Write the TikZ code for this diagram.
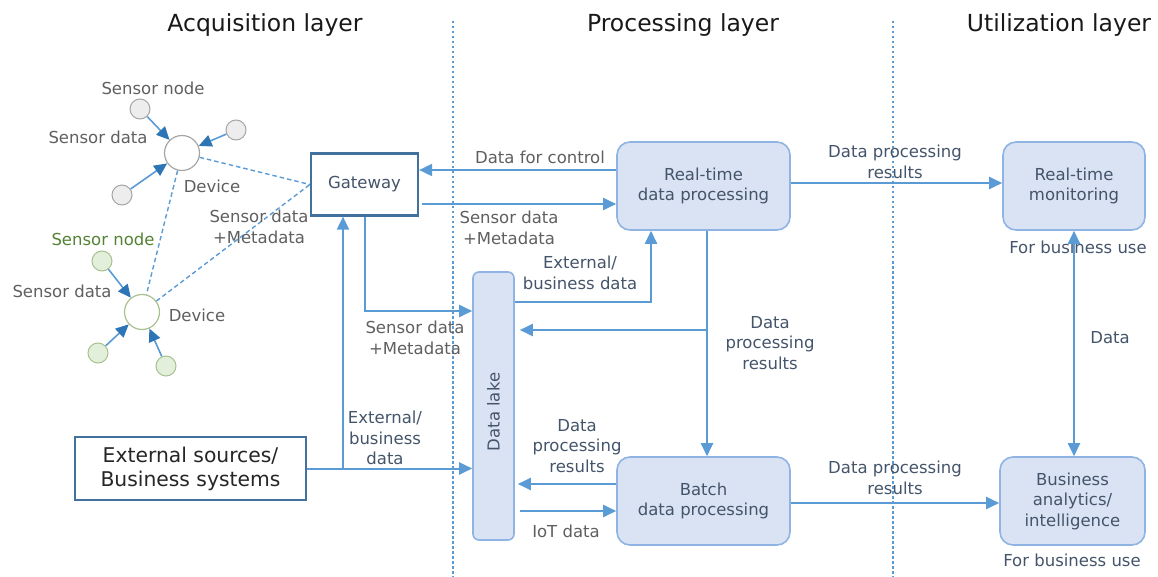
\documentclass[tikz,border=0pt]{standalone}
\usepackage{fontspec}
\setmainfont{DejaVu Sans}
\usetikzlibrary{arrows.meta,calc}

\definecolor{lineblue}{HTML}{5B9BD5}
\definecolor{arrowdark}{HTML}{2E75B6}
\definecolor{boxfill}{HTML}{DAE3F3}
\definecolor{boxline}{HTML}{8FB4E3}
\definecolor{darkline}{HTML}{41719C}
\definecolor{boxtext}{HTML}{44546A}
\definecolor{labelgray}{HTML}{5F5F5F}
\definecolor{labelblue}{HTML}{44546A}
\definecolor{nodegray}{HTML}{EDEDED}
\definecolor{nodegrayline}{HTML}{A6A6A6}
\definecolor{nodegreen}{HTML}{E2EFDA}
\definecolor{nodegreenline}{HTML}{A9C08F}
\definecolor{sensgreen}{HTML}{548235}

\newcommand\bodyfont{\fontsize{16.5}{20.5}\selectfont}
\newcommand\titlefont{\fontsize{23.5}{28}\selectfont}
\newcommand\extfont{\fontsize{20.3}{24}\selectfont}

\begin{document}
\begin{tikzpicture}[x=1pt,y=-1pt,
  lbl/.style={font=\bodyfont, text=labelgray, align=center, inner sep=0pt},
  lblb/.style={lbl, text=labelblue},
  title/.style={font=\titlefont, text=black!90, inner sep=0pt},
  proc/.style={draw=boxline, fill=boxfill, line width=1.6pt, rounded corners=13pt,
    font=\bodyfont, text=boxtext, align=center, inner sep=0pt},
  sqbox/.style={draw=darkline, line width=2.2pt, fill=white, align=center, inner sep=0pt},
  conn/.style={draw=lineblue, line width=2pt, -{Triangle[length=13pt,width=12pt]}},
  biconn/.style={draw=lineblue, line width=2pt, {Triangle[length=13pt,width=12pt]}-{Triangle[length=13pt,width=12pt]}},
  layerline/.style={draw=lineblue, line width=1.5pt, dash pattern=on 2.5pt off 2.5pt},
  link/.style={draw=lineblue, line width=1.4pt, dash pattern=on 4.5pt off 3pt},
  sgray/.style={circle, draw=nodegrayline, fill=nodegray, line width=1pt, minimum size=20pt, inner sep=0pt},
  sgreen/.style={circle, draw=nodegreenline, fill=nodegreen, line width=1pt, minimum size=20pt, inner sep=0pt},
  devgray/.style={circle, draw=nodegrayline, fill=white, line width=1.2pt, minimum size=35pt, inner sep=0pt},
  devgreen/.style={circle, draw=nodegreenline, fill=white, line width=1.2pt, minimum size=35pt, inner sep=0pt},
  sarrow/.style={draw=lineblue, line width=1.6pt, -{Triangle[length=13pt,width=12pt,color=arrowdark]}}
]
\useasboundingbox (0,0) rectangle (1158,577);

% layer titles and separators
\node[title] (tacq) at (265,25) {Acquisition layer};
\node[title] (tproc) at (683,25) {Processing layer};
\node[title] (tutil) at (1059,25) {Utilization layer};
\draw[layerline] (453,21) -- (453,577);
\draw[layerline] (893,21) -- (893,577);

% acquisition side: sensors and devices
\node[devgray] (dev1) at (182,153) {};
\node[sgray] (g1) at (140,109) {};
\node[sgray] (g2) at (236,130) {};
\node[sgray] (g3) at (122,195) {};
\node[devgreen] (dev2) at (142,312) {};
\node[sgreen] (n1) at (102,261) {};
\node[sgreen] (n2) at (98,353) {};
\node[sgreen] (n3) at (166,366) {};

\draw[sarrow] (g1) -- (dev1);
\draw[sarrow] (g2) -- (dev1);
\draw[sarrow] (g3) -- (dev1);
\draw[sarrow] (n1) -- (dev2);
\draw[sarrow] (n2) -- (dev2);
\draw[sarrow] (n3) -- (dev2);

\node[lbl] (lsn1) at (153,88) {Sensor node};
\node[lbl] (lsd1) at (98,137) {Sensor data};
\node[lbl] (ldev1) at (212,186) {Device};
\node[lbl, text=sensgreen] (lsn2) at (103,239) {Sensor node};
\node[lbl] (lsd2) at (62,291) {Sensor data};
\node[lbl] (ldev2) at (197,315) {Device};

% gateway and external systems
\node[sqbox, minimum width=107pt, minimum height=62pt, font=\bodyfont, text=boxtext] (gw) at (364.5,184.5) {Gateway};
\node[sqbox, minimum width=231pt, minimum height=63pt, font=\extfont, text=black!85] (ext) at (190.5,468.5) {External sources/\\Business systems};

\draw[link] (dev1) -- (gw.west);
\draw[link] (dev1) -- (dev2);
\draw[link] (dev2) -- (gw.west);
\node[lbl] (lsm1) at (259,227) {Sensor data\\+Metadata};

% processing layer
\node[proc, minimum width=173pt, minimum height=88pt] (rt) at (703.5,186) {Real-time\\data processing};
\node[proc, minimum width=173pt, minimum height=88pt] (bt) at (703.5,501) {Batch\\data processing};
\node[proc, rounded corners=6pt, minimum width=41pt, minimum height=268pt] (dl) at (493.5,406) {};
\node[font=\bodyfont, text=boxtext, rotate=90, inner sep=0pt] (dltext) at (493.5,412) {Data lake};

% utilization layer
\node[proc, minimum width=142pt, minimum height=88pt] (mon) at (1074,186) {Real-time\\monitoring};
\node[proc, minimum width=145pt, minimum height=88pt] (ba) at (1072.5,501) {Business\\analytics/\\intelligence};
\node[lblb] (fb1) at (1078,247) {For business use};
\node[lblb] (fb2) at (1072,560) {For business use};

% gateway <-> real-time processing
\draw[conn] ([yshift=16pt]rt.west) -- ([yshift=16pt]rt.west -| gw.east);
\node[lbl] (ldfc) at (540,157) {Data for control};
\draw[conn] ([yshift=-18pt,xshift=3pt]rt.west -| gw.east) -- ([yshift=-18pt]rt.west);
\node[lbl] (lsm2) at (509,228) {Sensor data\\+Metadata};

% gateway -> data lake
\draw[conn] (gw.south) |- ([yshift=95pt]dl.west);
\node[lbl] (lsm3) at (415,338) {Sensor data\\+Metadata};

% data lake -> real-time processing
\draw[conn] ([yshift=104pt]dl.east) -| ([xshift=-52.5pt]rt.south);
\node[lblb] (lebd) at (580,273) {External/\\business data};

% real-time processing -> batch, with branch back to the data lake
\draw[conn] ([xshift=3.5pt]rt.south) -- ([xshift=3.5pt]bt.north);
\coordinate (br) at (707,330);
\draw[conn] (br) -- ([xshift=5pt]br -| dl.east);
\node[lblb] (ldpr1) at (770,343) {Data\\processing\\results};

% external sources -> data lake and gateway
\draw[conn] (ext.east) -- (ext.east -| dl.west);
\coordinate (eb) at (343,468.5);
\draw[conn] (eb) -- (eb |- gw.south);
\node[lblb] (lebd2) at (385,438) {External/\\business\\data};

% batch <-> data lake
\draw[conn] ([yshift=17pt]bt.west) -- ([yshift=17pt,xshift=3pt]bt.west -| dl.east);
\node[lblb] (ldpr2) at (577,446) {Data\\processing\\results};
\draw[conn] ([yshift=-10pt,xshift=5pt]bt.west -| dl.east) -- ([yshift=-10pt]bt.west);
\node[lbl] (liot) at (566,531) {IoT data};

% processing -> utilization
\draw[conn] ([yshift=3pt]rt.east) -- ([yshift=3pt]rt.east -| mon.west);
\node[lblb] (ldpr3) at (895,162) {Data processing\\results};
\draw[conn] ([yshift=-2pt]bt.east) -- ([yshift=-2pt]bt.east -| ba.west);
\node[lblb] (ldpr4) at (895,478) {Data processing\\results};

% monitoring <-> analytics
\draw[biconn] (mon.south) -- (mon.south |- ba.north);
\node[lblb] (ldata) at (1110,338) {Data};

\end{tikzpicture}
\end{document}
